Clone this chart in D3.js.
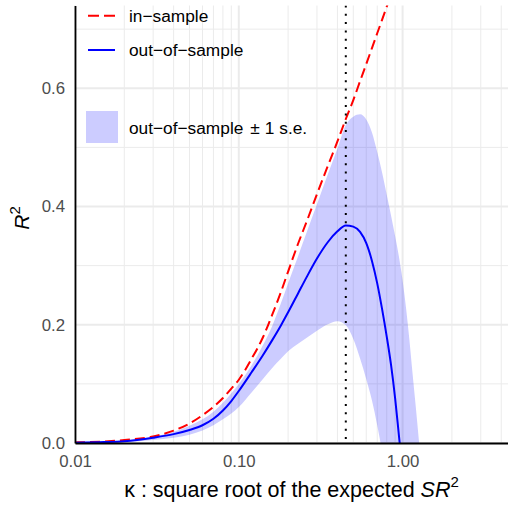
<!DOCTYPE html>
<html>
<head>
<meta charset="utf-8">
<script src="https://cdn.jsdelivr.net/npm/d3@7"></script>
<style>
  html, body { margin: 0; padding: 0; background: #ffffff; }
  svg { display: block; }
  text { font-family: "Liberation Sans", Arial, Helvetica, sans-serif; }
</style>
</head>
<body>
<svg id="chart" width="508" height="508"></svg>
<script>
// ---- data ----
const kappa = [0.01, 0.015, 0.02, 0.03, 0.04, 0.05, 0.06, 0.07, 0.08, 0.09, 0.1, 0.12, 0.14, 0.16, 0.18, 0.2,
  0.23, 0.26, 0.3, 0.35, 0.4, 0.45, 0.5, 0.55, 0.6, 0.65, 0.7, 0.75, 0.8, 0.85, 0.9, 0.95, 1.0, 1.05, 1.1, 1.15, 1.2, 1.3];
const inSample = [0.001, 0.0025, 0.005, 0.011, 0.021, 0.033, 0.047, 0.061, 0.076, 0.092, 0.107, 0.143, 0.178, 0.217, 0.254, 0.29,
  0.337, 0.375, 0.421, 0.469, 0.51, 0.548, 0.58, 0.612, 0.641, 0.668, 0.693, 0.716, 0.738, 0.758, 0.777, 0.794, 0.81, 0.825, 0.84, 0.854, 0.868, 0.895];
const outSample = [0.0004, 0.0015, 0.003, 0.009, 0.015, 0.022, 0.03, 0.041, 0.055, 0.071, 0.088, 0.12, 0.148, 0.174, 0.198, 0.221,
  0.253, 0.281, 0.312, 0.34, 0.358, 0.368, 0.366, 0.357, 0.338, 0.308, 0.27, 0.226, 0.18, 0.132, 0.076, 0.012, -0.048, -0.11, -0.17, -0.235, -0.3, -0.43];
const bandLower = [0.0002, 0.0008, 0.0018, 0.005, 0.009, 0.014, 0.021, 0.03, 0.04, 0.05, 0.061, 0.086, 0.108, 0.127, 0.142, 0.155,
  0.168, 0.178, 0.19, 0.201, 0.206, 0.199, 0.176, 0.143, 0.108, 0.072, 0.03, -0.015, -0.06, -0.11, -0.16, -0.21, -0.26, -0.31, -0.36, -0.41, -0.46, -0.56];
const bandUpper = [0.0008, 0.002, 0.0045, 0.0105, 0.019, 0.029, 0.04, 0.053, 0.068, 0.084, 0.1, 0.132, 0.165, 0.198, 0.235, 0.27,
  0.316, 0.357, 0.404, 0.455, 0.498, 0.538, 0.552, 0.556, 0.547, 0.525, 0.492, 0.457, 0.42, 0.385, 0.35, 0.315, 0.275, 0.228, 0.175, 0.118, 0.065, -0.04];
const kappaStar = 0.45;

const xMajor = [0.01, 0.1, 1];
const xTickLabels = ["0.01", "0.10", "1.00"];
const xMinor = [0.02, 0.03, 0.04, 0.05, 0.06, 0.07, 0.08, 0.09, 0.2, 0.3, 0.4, 0.5, 0.6, 0.7, 0.8, 0.9, 2, 3, 4];
const yMajor = [0, 0.2, 0.4, 0.6];
const yTickLabels = ["0.0", "0.2", "0.4", "0.6"];
const yMinor = [0.1, 0.3, 0.5, 0.7];

const legendLabels = ["in\u2212sample", "out\u2212of\u2212sample", "out\u2212of\u2212sample"];

// ---- layout ----
const pLeft = 75, pRight = 508, pTop = 5.5, pBottom = 443;

const svg = d3.select("#chart");
const x = d3.scaleLog().domain([0.01, 4.4]).range([pLeft, pRight]);
const y = d3.scaleLinear().domain([0, 0.74]).range([pBottom, pTop]);

const rows = kappa.map((k, i) => ({ k, ins: inSample[i], oos: outSample[i], lo: bandLower[i], hi: bandUpper[i] }));

svg.append("defs").append("clipPath").attr("id", "panel")
  .append("rect").attr("x", pLeft).attr("y", pTop).attr("width", pRight - pLeft).attr("height", pBottom - pTop);

// grid
const grid = svg.append("g");
grid.selectAll(".ymin").data(yMinor).join("line")
  .attr("x1", pLeft).attr("x2", pRight).attr("y1", d => y(d)).attr("y2", d => y(d))
  .attr("stroke", "#ebebeb").attr("stroke-width", 1);
grid.selectAll(".xmin").data(xMinor).join("line")
  .attr("x1", d => x(d)).attr("x2", d => x(d)).attr("y1", pTop).attr("y2", pBottom)
  .attr("stroke", "#ebebeb").attr("stroke-width", 1);
grid.selectAll(".ymaj").data(yMajor).join("line")
  .attr("x1", pLeft).attr("x2", pRight).attr("y1", d => y(d)).attr("y2", d => y(d))
  .attr("stroke", "#ebebeb").attr("stroke-width", 2);
grid.selectAll(".xmaj").data(xMajor).join("line")
  .attr("x1", d => x(d)).attr("x2", d => x(d)).attr("y1", pTop).attr("y2", pBottom)
  .attr("stroke", "#ebebeb").attr("stroke-width", 2);

const plot = svg.append("g").attr("clip-path", "url(#panel)");

// band
plot.append("path").datum(rows)
  .attr("d", d3.area().x(d => x(d.k)).y0(d => y(d.lo)).y1(d => y(d.hi)).curve(d3.curveMonotoneX))
  .attr("fill", "#0000ff").attr("fill-opacity", 0.2);

// in-sample
plot.append("path").datum(rows)
  .attr("d", d3.line().x(d => x(d.k)).y(d => y(d.ins)).curve(d3.curveMonotoneX))
  .attr("fill", "none").attr("stroke", "#ff0000").attr("stroke-width", 2)
  .attr("stroke-dasharray", "10,5");

// out-of-sample
plot.append("path").datum(rows)
  .attr("d", d3.line().x(d => x(d.k)).y(d => y(d.oos)).curve(d3.curveMonotoneX))
  .attr("fill", "none").attr("stroke", "#0000ff").attr("stroke-width", 2);

// vertical dotted line
plot.append("line")
  .attr("x1", x(kappaStar)).attr("x2", x(kappaStar)).attr("y1", pTop).attr("y2", pBottom)
  .attr("stroke", "#000").attr("stroke-width", 2).attr("stroke-dasharray", "2,6.3");

// axes
const xAxis = svg.append("g").attr("transform", `translate(0,${pBottom})`)
  .call(d3.axisBottom(x).tickValues(xMajor).tickFormat((d, i) => xTickLabels[i]).tickSize(0).tickPadding(12));
xAxis.select(".domain").attr("stroke", "#000").attr("stroke-width", 1.8);
xAxis.selectAll("text").attr("fill", "#4d4d4d").style("font-size", "16.8px");

const yAxis = svg.append("g").attr("transform", `translate(${pLeft},0)`)
  .call(d3.axisLeft(y).tickValues(yMajor).tickFormat((d, i) => yTickLabels[i]).tickSize(0).tickPadding(10));
yAxis.select(".domain").attr("stroke", "#000").attr("stroke-width", 1.8);
yAxis.selectAll("text").attr("fill", "#4d4d4d").style("font-size", "16.8px");

// axis titles
const xt = svg.append("text").attr("x", (pLeft + pRight) / 2).attr("y", 497)
  .attr("text-anchor", "middle").style("font-size", "21.5px").attr("fill", "#000");
xt.append("tspan").text("\u03BA : square root of the expected ");
xt.append("tspan").attr("font-style", "italic").text("SR");
xt.append("tspan").attr("dy", -10).style("font-size", "15px").text("2");

const yt = svg.append("text").attr("transform", `translate(29,218) rotate(-90)`)
  .attr("text-anchor", "middle").style("font-size", "21px").attr("fill", "#000");
yt.append("tspan").attr("font-style", "italic").text("R");
yt.append("tspan").attr("dy", -9.5).style("font-size", "15px").text("2");

// legend
const lg = svg.append("g");
lg.append("line").attr("x1", 88).attr("x2", 115).attr("y1", 15.7).attr("y2", 15.7)
  .attr("stroke", "#ff0000").attr("stroke-width", 2).attr("stroke-dasharray", "11,5");
lg.append("line").attr("x1", 88).attr("x2", 115).attr("y1", 50).attr("y2", 50)
  .attr("stroke", "#0000ff").attr("stroke-width", 2);
lg.append("rect").attr("x", 86).attr("y", 111).attr("width", 32).attr("height", 32)
  .attr("fill", "#0000ff").attr("fill-opacity", 0.2);
const legY = [16, 50, 128];
const lt = lg.selectAll(".lt").data(legendLabels).join("text")
  .attr("x", 129).attr("y", (d, i) => legY[i]).attr("dy", "0.35em")
  .style("font-size", "17.3px").attr("fill", "#000").text(d => d);
// third entry: "out−of−sample ± 1 s.e."
const third = d3.select(lt.nodes()[2]);
third.append("tspan").attr("dx", 7).text("\u00B1");
third.append("tspan").attr("dx", 5).text("1 s.e.");
</script>
</body>
</html>
